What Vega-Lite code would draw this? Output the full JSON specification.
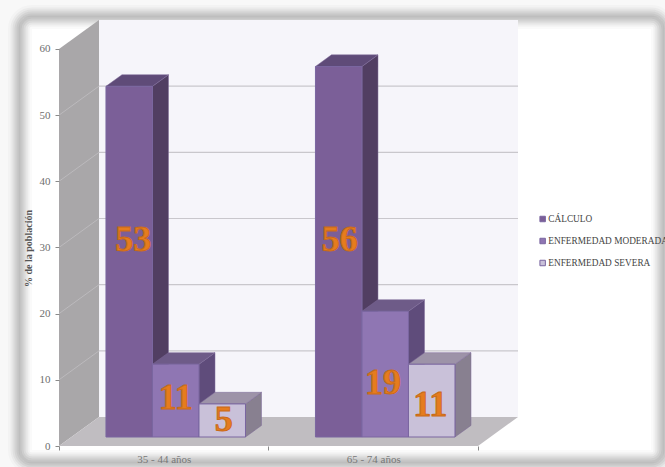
{
  "$schema": "https://vega.github.io/schema/vega-lite/v6.json",
  "width": 459,
  "height": 426,
  "padding": {"left": 59, "top": 20, "right": 147, "bottom": 21},
  "autosize": "none",
  "background": "#f8f8f8",
  "config": {"view": {"stroke": null}, "font": "Liberation Serif"},
  "datasets": {
    "barras": [
      {"grupo": "35 - 44 años", "serie": "CÁLCULO", "valor": 53},
      {"grupo": "35 - 44 años", "serie": "ENFERMEDAD MODERADA", "valor": 11},
      {"grupo": "35 - 44 años", "serie": "ENFERMEDAD SEVERA", "valor": 5},
      {"grupo": "65 - 74 años", "serie": "CÁLCULO", "valor": 56},
      {"grupo": "65 - 74 años", "serie": "ENFERMEDAD MODERADA", "valor": 19},
      {"grupo": "65 - 74 años", "serie": "ENFERMEDAD SEVERA", "valor": 11}
    ],
    "rejilla": [{"v": 10}, {"v": 20}, {"v": 30}, {"v": 40}, {"v": 50}],
    "uno": [{"n": 1}]
  },
  "resolve": {"scale": {"color": "independent"}},
  "encoding": {
    "x": {"type": "quantitative", "scale": {"domain": [0, 2.191], "nice": false, "zero": false},
          "axis": {"values": [0, 0.5, 1, 1.5, 2], "title": null, "domain": false, "grid": false, "zindex": 1, "tickSize": 4, "tickColor": "#8a8a8a",
                   "tickOpacity": {"condition": {"test": "datum.value % 1 === 0", "value": 1}, "value": 0},
                   "labelExpr": "datum.value === 0.5 ? '35 - 44 años' : datum.value === 1.5 ? '65 - 74 años' : ''",
                   "labelFont": "Liberation Serif", "labelFontSize": 11, "labelColor": "#777777", "labelPadding": 3, "labelFlush": false, "labelOverlap": false}},
    "y": {"type": "quantitative", "scale": {"domain": [0, 64.38], "nice": false, "zero": false},
          "axis": {"values": [0, 10, 20, 30, 40, 50, 60], "title": "% de la población", "titleFont": "Liberation Serif", "titleFontSize": 10, "titleFontWeight": "bold", "titleColor": "#555555", "titleX": -26, "titleY": 228, "zindex": 1,
                   "domain": false, "grid": false, "tickSize": 4, "tickColor": "#8a8a8a", "labelFont": "Liberation Serif", "labelFontSize": 11, "labelColor": "#6e6e6e", "labelPadding": 5}}
  },
  "layer": [
    {"data": {"name": "uno"},
     "mark": {"type": "rect", "fill": "#ffffff", "cornerRadius": 8},
     "encoding": {"x": {"datum": -0.186}, "x2": {"datum": 2.883}, "y": {"datum": 64.83}, "y2": {"datum": -2.42}}},
    {"data": {"name": "uno"},
     "mark": {"type": "rect", "fillOpacity": 0, "stroke": "#7a7a7a", "strokeWidth": 24, "strokeOpacity": 0.04, "cornerRadius": 12},
     "encoding": {"x": {"datum": -0.186}, "x2": {"datum": 2.883}, "y": {"datum": 64.83}, "y2": {"datum": -2.42}}},
    {"data": {"name": "uno"},
     "mark": {"type": "rect", "fillOpacity": 0, "stroke": "#7a7a7a", "strokeWidth": 19, "strokeOpacity": 0.07, "cornerRadius": 12},
     "encoding": {"x": {"datum": -0.186}, "x2": {"datum": 2.883}, "y": {"datum": 64.83}, "y2": {"datum": -2.42}}},
    {"data": {"name": "uno"},
     "mark": {"type": "rect", "fillOpacity": 0, "stroke": "#7a7a7a", "strokeWidth": 15, "strokeOpacity": 0.09, "cornerRadius": 12},
     "encoding": {"x": {"datum": -0.186}, "x2": {"datum": 2.883}, "y": {"datum": 64.83}, "y2": {"datum": -2.42}}},
    {"data": {"name": "uno"},
     "mark": {"type": "rect", "fillOpacity": 0, "stroke": "#7a7a7a", "strokeWidth": 11, "strokeOpacity": 0.11, "cornerRadius": 12},
     "encoding": {"x": {"datum": -0.186}, "x2": {"datum": 2.883}, "y": {"datum": 64.83}, "y2": {"datum": -2.42}}},
    {"data": {"name": "uno"},
     "mark": {"type": "rect", "fillOpacity": 0, "stroke": "#7a7a7a", "strokeWidth": 7, "strokeOpacity": 0.12, "cornerRadius": 12},
     "encoding": {"x": {"datum": -0.186}, "x2": {"datum": 2.883}, "y": {"datum": 64.83}, "y2": {"datum": -2.42}}},
    {"data": {"name": "uno"},
     "mark": {"type": "rect", "fillOpacity": 0, "stroke": "#7a7a7a", "strokeWidth": 3, "strokeOpacity": 0.12, "cornerRadius": 12},
     "encoding": {"x": {"datum": -0.186}, "x2": {"datum": 2.883}, "y": {"datum": 64.83}, "y2": {"datum": -2.42}}},
    {"data": {"name": "uno"},
     "mark": {"type": "rect", "fill": "#f6f5fa"},
     "encoding": {"x": {"datum": 0.191}, "x2": {"datum": 2.191}, "y": {"datum": 4.38}, "y2": {"datum": 64.38}}},
    {"data": {"values": [{"d": 0}, {"d": 1}]},
     "transform": [{"calculate": "datum.d*0.191", "as": "px"}, {"calculate": "datum.d*4.38", "as": "py"}, {"calculate": "60+datum.d*4.38", "as": "py2"}],
     "mark": {"type": "area", "fill": "#a9a7a9", "orient": "vertical"},
     "encoding": {"x": {"field": "px"}, "y": {"field": "py", "stack": null}, "y2": {"field": "py2"}}},
    {"data": {"values": [{"d": 0}, {"d": 1}]},
     "transform": [{"calculate": "datum.d*0.191", "as": "px"}, {"calculate": "2+datum.d*0.191", "as": "px2"}, {"calculate": "datum.d*4.38", "as": "py"}],
     "mark": {"type": "area", "fill": "#c0bdc1", "orient": "horizontal"},
     "encoding": {"y": {"field": "py"}, "x": {"field": "px", "stack": null}, "x2": {"field": "px2"}}},
    {"data": {"name": "rejilla"},
     "transform": [{"calculate": "datum.v+4.38", "as": "vz"}],
     "mark": {"type": "rule", "stroke": "#c9c7cc", "strokeWidth": 1.2},
     "encoding": {"x": {"datum": 0.191}, "x2": {"datum": 2.191}, "y": {"field": "vz"}}},
    {"data": {"name": "rejilla"},
     "transform": [{"calculate": "datum.v+4.38", "as": "vz"}],
     "mark": {"type": "rule", "stroke": "#bcbabd", "strokeWidth": 1},
     "encoding": {"x": {"datum": 0}, "x2": {"datum": 0.191}, "y": {"field": "v"}, "y2": {"field": "vz"}}},
    {"data": {"name": "barras"},
     "transform": [
       {"calculate": "indexof(['35 - 44 años','65 - 74 años'],datum.grupo)+0.165+0.222*indexof(['CÁLCULO','ENFERMEDAD MODERADA','ENFERMEDAD SEVERA'],datum.serie)", "as": "izq"},
       {"calculate": "[0.31,0.71]", "as": "d"}, {"flatten": ["d"]},
       {"calculate": "datum.izq+0.222+datum.d*0.191", "as": "px"},
       {"calculate": "datum.d*4.38", "as": "py"},
       {"calculate": "datum.valor+datum.d*4.38", "as": "py2"}],
     "mark": {"type": "area", "orient": "vertical", "strokeWidth": 1, "stroke": "#7d6a99", "strokeOpacity": 0.5},
     "encoding": {
       "x": {"field": "px"}, "y": {"field": "py", "stack": null}, "y2": {"field": "py2"},
       "detail": {"field": "grupo"},
       "color": {"field": "serie", "type": "nominal", "legend": null, "scale": {"domain": ["CÁLCULO", "ENFERMEDAD MODERADA", "ENFERMEDAD SEVERA"], "range": ["#513e62", "#5f4c7b", "#888090"]}}}},
    {"data": {"name": "barras"},
     "transform": [
       {"calculate": "indexof(['35 - 44 años','65 - 74 años'],datum.grupo)+0.165+0.222*indexof(['CÁLCULO','ENFERMEDAD MODERADA','ENFERMEDAD SEVERA'],datum.serie)", "as": "izq"},
       {"calculate": "[0.31,0.71]", "as": "d"}, {"flatten": ["d"]},
       {"calculate": "datum.izq+datum.d*0.191", "as": "px"},
       {"calculate": "datum.izq+0.222+datum.d*0.191", "as": "px2"},
       {"calculate": "datum.valor+datum.d*4.38", "as": "py"}],
     "mark": {"type": "area", "orient": "horizontal", "strokeWidth": 1, "stroke": "#7d6a99", "strokeOpacity": 0.5},
     "encoding": {
       "y": {"field": "py"}, "x": {"field": "px", "stack": null}, "x2": {"field": "px2"},
       "detail": {"field": "grupo"},
       "color": {"field": "serie", "type": "nominal", "legend": null, "scale": {"domain": ["CÁLCULO", "ENFERMEDAD MODERADA", "ENFERMEDAD SEVERA"], "range": ["#5f4b78", "#6e5b88", "#9d93a8"]}}}},
    {"data": {"name": "barras"},
     "transform": [
       {"calculate": "indexof(['35 - 44 años','65 - 74 años'],datum.grupo)+0.165+0.222*indexof(['CÁLCULO','ENFERMEDAD MODERADA','ENFERMEDAD SEVERA'],datum.serie)+0.31*0.191", "as": "px"},
       {"calculate": "datum.px+0.222", "as": "px2"},
       {"calculate": "0.31*4.38", "as": "py"},
       {"calculate": "datum.valor+0.31*4.38", "as": "py2"}],
     "mark": {"type": "rect", "stroke": "#7a66a0", "strokeWidth": 1},
     "encoding": {
       "x": {"field": "px"}, "x2": {"field": "px2"}, "y": {"field": "py"}, "y2": {"field": "py2"},
       "color": {"field": "serie", "type": "nominal",
                 "scale": {"domain": ["CÁLCULO", "ENFERMEDAD MODERADA", "ENFERMEDAD SEVERA"], "range": ["#7b5f98", "#8f76b3", "#c9c1d9"]},
                 "legend": {"title": null, "orient": "none", "legendX": 479, "legendY": 194, "symbolType": "square", "symbolSize": 30, "symbolStrokeWidth": 1, "labelFont": "Liberation Serif", "labelFontSize": 9.3, "labelColor": "#444444", "labelLimit": 300, "labelOffset": 1, "rowPadding": 11, "clipHeight": 10, "zindex": 2}}}},
    {"data": {"name": "barras"},
     "transform": [
       {"calculate": "indexof(['35 - 44 años','65 - 74 años'],datum.grupo)*3+indexof(['CÁLCULO','ENFERMEDAD MODERADA','ENFERMEDAD SEVERA'],datum.serie)", "as": "k"},
       {"calculate": "floor(datum.k/3)+0.165+0.222*(datum.k%3)+0.059+0.111+[0.02,0,0.007,0.005,-0.01,-0.007][datum.k]", "as": "lx"},
       {"calculate": "datum.valor/2+1.36+[3.3,0.4,0,1.8,-1.3,-0.7][datum.k]", "as": "ly"}],
     "mark": {"type": "text", "font": "Liberation Serif", "fontWeight": "bold", "fontSize": 36, "baseline": "middle", "align": "center", "fill": "#e57c1e", "stroke": "#c96a17", "strokeWidth": 1},
     "encoding": {
       "x": {"field": "lx"}, "y": {"field": "ly"},
       "text": {"field": "valor", "type": "quantitative"}}}
  ]
}
